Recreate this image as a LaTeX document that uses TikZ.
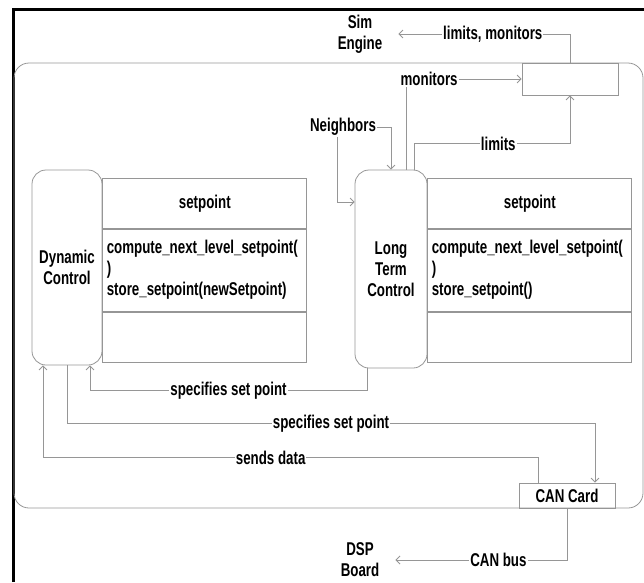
\documentclass[tikz,border=0pt]{standalone}
\usepackage{fontspec}
\newfontfamily\narrowfont{Liberation Sans}[FakeStretch=0.72]
\usetikzlibrary{arrows.meta,calc}

\definecolor{linegray}{RGB}{150,150,150}

\tikzset{
	every node/.style={font=\narrowfont\bfseries\fontsize{18.5}{21}\selectfont},
	wire/.style={draw=linegray, line width=0.8pt},
	arr/.style={wire, -{Straight Barb[length=4pt,width=8pt]}},
	lbl/.style={fill=white, inner sep=1pt},
	ctrl/.style={draw=linegray, line width=0.8pt, rounded corners=14pt, align=center},
	part/.style={draw=linegray, line width=0.8pt, minimum width=204pt, inner sep=0pt},
	extern/.style={align=center, inner xsep=16pt, inner ysep=1pt}
}

\begin{document}
\begin{tikzpicture}[x=1pt,y=1pt]
	\useasboundingbox (0,0) rectangle (644,-582);
	\draw[line width=3pt] (13,-582) -- (13,-9) -- (644,-9);
	\draw[wire, rounded corners=15pt] (14,-63) rectangle (643,-508);

	\node[extern] (simeng) at (360,-34) {Sim\\Engine};
	\node[extern] (dsp) at (360,-560) {DSP\\Board};
	\node[inner sep=1pt] (nbr) at (343,-127) {Neighbors};
	\node[draw=linegray, line width=0.8pt, minimum width=96pt, minimum height=32pt, inner sep=0pt] (topbox) at (570,-79) {};
	\node[draw=linegray, line width=0.8pt, minimum width=96pt, minimum height=25pt, inner sep=0pt] (cancard) at (567,-495.5) {CAN Card};

	\node[ctrl, minimum width=70pt, minimum height=195pt] (dc) at (67,-267.5) {Dynamic\\Control};
	\node[part, minimum height=50pt, anchor=north west] (dcname) at (dc.east |- 0,-178) {setpoint};
	\node[part, minimum height=82pt, anchor=north, inner xsep=4pt, text width=196pt, align=left] (dcops) at (dcname.south)
		{compute\_next\_level\_setpoint(\\)\\store\_setpoint(newSetpoint)};
	\node[part, minimum height=50pt, anchor=north] (dcattr) at (dcops.south) {};

	\node[ctrl, minimum width=72pt, minimum height=198pt] (ltc) at (391,-269) {Long\\Term\\Control};
	\node[part, minimum height=50pt, anchor=north west] (ltcname) at (ltc.east |- 0,-178) {setpoint};
	\node[part, minimum height=82pt, anchor=north, inner xsep=4pt, text width=196pt, align=left] (ltcops) at (ltcname.south)
		{compute\_next\_level\_setpoint(\\)\\store\_setpoint()};
	\node[part, minimum height=50pt, anchor=north] (ltcattr) at (ltcops.south) {};

	\draw[arr] (topbox.north) |- node[lbl, pos=0.725] {limits, monitors} (simeng.east);
	\draw[arr] ([xshift=15pt]ltc.north) |- node[lbl, pos=0.6] {monitors} (topbox.west);
	\draw[arr] ([xshift=23pt]ltc.north) -- ++(0,26) -| node[lbl, pos=0.27] {limits} (topbox.south);
	\draw[arr] (nbr.east) -| (ltc.north);
	\draw[arr] ([xshift=-6pt]nbr.south) |- ([yshift=67pt]ltc.west);

	\draw[arr] ([xshift=-24pt]ltc.south) -- ++(0,-22) -| node[lbl, pos=0.25] {specifies set point} ([xshift=23pt]dc.south);
	\draw[arr] (dc.south) -- ++(0,-58) -| node[lbl, pos=0.25] {specifies set point} ([xshift=28pt]cancard.north);
	\draw[arr] ([xshift=-29pt]cancard.north) -- ++(0,25) -| node[lbl, pos=0.27] {sends data} ([xshift=-24pt]dc.south);
	\draw[arr] (cancard.south) |- node[lbl, pos=0.7] {CAN bus} (dsp.east);
\end{tikzpicture}
\end{document}
